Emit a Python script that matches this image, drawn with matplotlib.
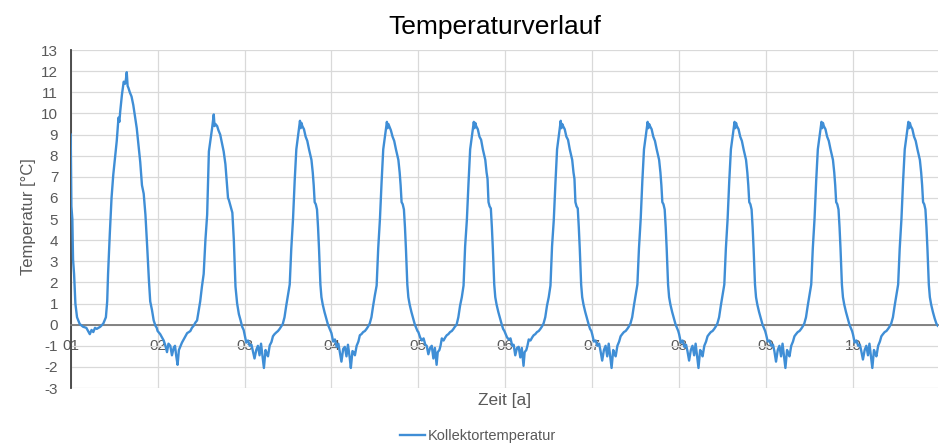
import matplotlib

matplotlib.use("Agg")
import matplotlib.pyplot as plt
import numpy as np

# Zeitpunkte innerhalb eines Jahres (Anteil des Jahres)
ZEIT_JAHR_01 = [
    0.000, 0.008, 0.019, 0.027, 0.039, 0.054, 0.073, 0.104, 0.143, 0.180,
    0.200, 0.220, 0.240, 0.260, 0.280, 0.300, 0.340, 0.375, 0.405, 0.420,
    0.430, 0.450, 0.470, 0.490, 0.510, 0.530, 0.550, 0.560, 0.570, 0.590,
    0.610, 0.625, 0.635, 0.645, 0.655, 0.665, 0.680, 0.700, 0.720, 0.760,
    0.800, 0.820, 0.840, 0.860, 0.880, 0.900, 0.915, 0.935, 0.955, 0.975,
    0.990,
]
TEMP_JAHR_01 = [
    9.0, 5.6, 5.0, 3.1, 2.4, 1.0, 0.35, 0.03, -0.1, -0.15,
    -0.3, -0.45, -0.25, -0.35, -0.15, -0.2, -0.1, 0.05, 0.35, 1.1,
    2.4, 4.3, 6.0, 7.1, 7.9, 8.7, 9.8, 9.6, 10.1, 10.9,
    11.5, 11.4, 11.6, 11.95, 11.3, 11.2, 11.0, 10.8, 10.4, 9.3,
    7.7, 6.6, 6.2, 5.2, 3.7, 2.1, 1.1, 0.7, 0.2, -0.05,
    -0.15,
]

ZEIT_JAHR_02 = [
    0.000, 0.030, 0.070, 0.090, 0.108, 0.125, 0.146, 0.165, 0.185, 0.200,
    0.215, 0.230, 0.245, 0.260, 0.280, 0.300, 0.320, 0.340, 0.360, 0.377,
    0.395, 0.415, 0.435, 0.454, 0.470, 0.490, 0.510, 0.530, 0.550, 0.570,
    0.580, 0.590, 0.610, 0.627, 0.646, 0.655, 0.665, 0.685, 0.700, 0.720,
    0.740, 0.760, 0.780, 0.800, 0.810, 0.820, 0.840, 0.860, 0.877, 0.896,
    0.915, 0.935, 0.955, 0.973, 0.990,
]
TEMP_JAHR_02 = [
    -0.3, -0.45, -0.75, -1.0, -1.3, -0.9, -1.0, -1.45, -1.1, -1.0,
    -1.5, -1.9, -1.2, -1.05, -0.85, -0.7, -0.55, -0.4, -0.35, -0.3,
    -0.15, -0.05, 0.1, 0.2, 0.6, 1.1, 1.8, 2.4, 4.0, 5.2,
    6.8, 8.2, 8.8, 9.3, 9.95, 9.4, 9.5, 9.4, 9.2, 9.0,
    8.6, 8.2, 7.6, 6.5, 6.0, 5.9, 5.6, 5.3, 4.0, 1.8,
    1.0, 0.5, 0.2, -0.1, -0.25,
]

# Jahre 03 bis 10 teilen sich dasselbe Raster der Ablesezeitpunkte
ZEIT_JAHR = [
    0.000, 0.020, 0.040, 0.060, 0.080, 0.096, 0.115, 0.135, 0.154, 0.173,
    0.190, 0.210, 0.223, 0.242, 0.255, 0.270, 0.290, 0.310, 0.327, 0.345,
    0.365, 0.385, 0.404, 0.420, 0.440,
    0.460, 0.480, 0.500, 0.520, 0.538, 0.558, 0.577, 0.596, 0.615, 0.625,
    0.638, 0.646, 0.655, 0.665, 0.684, 0.703, 0.722, 0.742, 0.770, 0.785,
    0.796, 0.807, 0.820, 0.834, 0.846, 0.857, 0.873, 0.885, 0.900, 0.920,
    0.940, 0.960, 0.975, 0.990,
]
TEMP_JAHR_03 = [
    -0.45, -0.85, -0.75, -1.0, -0.95, -1.25, -1.6, -1.2, -1.0, -1.45,
    -0.9, -1.6, -2.05, -1.2, -1.35, -1.5, -0.98, -0.82, -0.55, -0.45,
    -0.37, -0.3, -0.2, -0.1, 0.03,
    0.35, 0.9, 1.4, 1.9, 3.6, 5.0, 6.8, 8.3, 8.9, 9.25,
    9.65, 9.3, 9.55, 9.4, 9.25, 8.9, 8.7, 8.3, 7.8, 7.2,
    6.6, 5.8, 5.7, 5.45, 4.6, 3.6, 1.9, 1.3, 0.95, 0.6,
    0.3, 0.0, -0.15, -0.3,
]
TEMP_JAHR_04 = [
    -0.4, -0.8, -0.7, -1.05, -0.9, -1.3, -1.75, -1.15, -1.05, -1.5,
    -0.95, -1.55, -2.05, -1.25, -1.3, -1.45, -1.0, -0.8, -0.5, -0.45,
    -0.35, -0.3, -0.2, -0.1, 0.05,
    0.35, 0.9, 1.4, 1.85, 3.6, 5.0, 6.75, 8.3, 8.9, 9.2,
    9.6, 9.3, 9.5, 9.4, 9.2, 8.9, 8.7, 8.3, 7.8, 7.2,
    6.6, 5.8, 5.7, 5.45, 4.6, 3.6, 1.9, 1.3, 0.95, 0.6,
    0.3, 0.0, -0.15, -0.3,
]
TEMP_JAHR_05 = [
    -0.35, -0.6, -0.75, -0.65, -0.95, -1.0, -1.4, -1.1, -1.0, -1.6,
    -1.1, -1.9, -1.3, -1.2, -1.0, -0.65, -0.75, -0.6, -0.5, -0.45,
    -0.35, -0.3, -0.2, -0.1, 0.0,
    0.35, 0.9, 1.3, 1.85, 3.7, 4.95, 6.7, 8.3, 8.9, 9.25,
    9.6, 9.3, 9.55, 9.4, 9.25, 8.9, 8.75, 8.3, 7.8, 7.2,
    6.9, 5.8, 5.6, 5.5, 4.6, 3.6, 1.9, 1.3, 0.95, 0.6,
    0.3, 0.0, -0.2, -0.3,
]
TEMP_JAHR_06 = [
    -0.4, -0.6, -0.7, -0.65, -1.0, -0.95, -1.45, -1.1, -1.05, -1.55,
    -1.1, -1.95, -1.3, -1.2, -1.0, -0.7, -0.75, -0.6, -0.5, -0.45,
    -0.35, -0.3, -0.2, -0.1, 0.05,
    0.35, 0.9, 1.3, 1.85, 3.7, 4.95, 6.7, 8.3, 8.9, 9.25,
    9.65, 9.3, 9.5, 9.4, 9.25, 8.9, 8.75, 8.3, 7.8, 7.2,
    6.9, 5.8, 5.6, 5.5, 4.6, 3.6, 1.9, 1.3, 0.95, 0.6,
    0.3, 0.0, -0.2, -0.3,
]
TEMP_JAHR_07 = [
    -0.45, -0.8, -0.75, -1.0, -0.9, -1.25, -1.7, -1.2, -1.0, -1.5,
    -0.9, -1.6, -2.05, -1.2, -1.35, -1.5, -1.0, -0.8, -0.55, -0.45,
    -0.35, -0.3, -0.2, -0.1, 0.05,
    0.35, 0.9, 1.4, 1.9, 3.6, 5.0, 6.8, 8.3, 8.9, 9.25,
    9.6, 9.3, 9.5, 9.4, 9.25, 8.9, 8.7, 8.3, 7.8, 7.2,
    6.6, 5.8, 5.7, 5.45, 4.6, 3.6, 1.9, 1.3, 0.95, 0.6,
    0.3, 0.0, -0.15, -0.3,
]
TEMP_JAHR_08 = [
    -0.45, -0.85, -0.75, -1.05, -0.95, -1.25, -1.7, -1.2, -1.0, -1.45,
    -0.9, -1.6, -2.05, -1.2, -1.3, -1.5, -1.0, -0.8, -0.55, -0.45,
    -0.35, -0.3, -0.2, -0.1, 0.05,
    0.35, 0.9, 1.4, 1.9, 3.6, 5.0, 6.8, 8.3, 8.9, 9.25,
    9.6, 9.3, 9.55, 9.4, 9.25, 8.9, 8.7, 8.3, 7.8, 7.2,
    6.6, 5.8, 5.7, 5.45, 4.6, 3.6, 1.9, 1.3, 0.95, 0.6,
    0.3, 0.0, -0.15, -0.3,
]
TEMP_JAHR_09 = [
    -0.45, -0.8, -0.75, -1.0, -0.95, -1.25, -1.75, -1.2, -1.0, -1.5,
    -0.9, -1.6, -2.05, -1.2, -1.35, -1.5, -1.0, -0.8, -0.55, -0.45,
    -0.35, -0.3, -0.2, -0.1, 0.05,
    0.35, 0.9, 1.4, 1.9, 3.6, 5.0, 6.8, 8.3, 8.9, 9.25,
    9.6, 9.3, 9.55, 9.4, 9.25, 8.9, 8.7, 8.3, 7.8, 7.2,
    6.6, 5.8, 5.7, 5.45, 4.6, 3.6, 1.9, 1.3, 0.95, 0.6,
    0.3, 0.0, -0.15, -0.3,
]
TEMP_JAHR_10 = [
    -0.45, -0.85, -0.75, -1.0, -0.95, -1.25, -1.65, -1.2, -1.0, -1.45,
    -0.9, -1.6, -2.05, -1.2, -1.35, -1.5, -1.0, -0.8, -0.55, -0.45,
    -0.35, -0.3, -0.2, -0.1, 0.05,
    0.35, 0.9, 1.4, 1.9, 3.6, 5.0, 6.8, 8.3, 8.9, 9.25,
    9.6, 9.3, 9.55, 9.4, 9.25, 8.9, 8.7, 8.3, 7.8, 7.2,
    6.6, 5.8, 5.7, 5.45, 4.6, 3.6, 1.9, 1.3, 0.95, 0.6,
    0.3, 0.05, -0.05, -0.1,
]

JAHR_LABELS = ["01", "02", "03", "04", "05", "06", "07", "08", "09", "10"]

LINE_COLOR = "#3f8ed6"
GRID_COLOR = "#d9d9d9"
TEXT_COLOR = "#595959"


def build_series():
    jahre = [
        (ZEIT_JAHR_01, TEMP_JAHR_01),
        (ZEIT_JAHR_02, TEMP_JAHR_02),
        (ZEIT_JAHR, TEMP_JAHR_03),
        (ZEIT_JAHR, TEMP_JAHR_04),
        (ZEIT_JAHR, TEMP_JAHR_05),
        (ZEIT_JAHR, TEMP_JAHR_06),
        (ZEIT_JAHR, TEMP_JAHR_07),
        (ZEIT_JAHR, TEMP_JAHR_08),
        (ZEIT_JAHR, TEMP_JAHR_09),
        (ZEIT_JAHR, TEMP_JAHR_10),
    ]
    zeit, temp = [], []
    for i, (t, v) in enumerate(jahre):
        zeit.extend(np.asarray(t) + i)
        temp.extend(v)
    return np.array(zeit), np.array(temp)


def main():
    plt.rcParams["font.family"] = ["Liberation Sans", "DejaVu Sans"]
    plt.rcParams["axes.unicode_minus"] = False
    fig = plt.figure(figsize=(9.4, 4.45), dpi=100)
    ax = fig.add_axes([0.0752, 0.128, 0.9228, 0.7596])

    zeit, temp = build_series()
    (line,) = ax.plot(zeit, temp, color=LINE_COLOR, lw=1.7,
                      label="Kollektortemperatur", zorder=3)

    ax.set_xlim(0, 9.98)
    ax.set_ylim(-3, 13)
    ax.set_yticks(range(-3, 14))
    ax.set_xticks(range(len(JAHR_LABELS)))
    ax.set_xticklabels(JAHR_LABELS)

    ax.grid(True, color=GRID_COLOR, lw=0.9, zorder=0)
    ax.set_axisbelow(True)

    # Excel-Stil: x-Achse kreuzt bei 0
    ax.spines["bottom"].set_position(("data", 0))
    ax.spines["bottom"].set_color("#7a7a7a")
    ax.spines["bottom"].set_linewidth(1.3)
    ax.spines["left"].set_color("#404040")
    ax.spines["left"].set_linewidth(1.3)
    ax.spines["top"].set_visible(False)
    ax.spines["right"].set_visible(False)

    ax.tick_params(axis="both", length=0, labelsize=11, labelcolor=TEXT_COLOR)
    ax.tick_params(axis="x", pad=10)
    ax.tick_params(axis="y", pad=9)

    fig.text(495 / 940, 1 - 27 / 445, "Temperaturverlauf", fontsize=19,
             ha="center", va="center", color="black")
    fig.text(28 / 940, 1 - 217 / 445, "Temperatur [°C]", fontsize=12,
             rotation=90, ha="center", va="center", color=TEXT_COLOR)
    fig.text(505 / 940, 1 - 400 / 445, "Zeit [a]", fontsize=12.5,
             ha="center", va="center", color=TEXT_COLOR)

    leg = fig.legend(handles=[line], loc="center",
                     bbox_to_anchor=(478 / 940, 1 - 436 / 445),
                     frameon=False, fontsize=10.5, handlelength=1.7,
                     handletextpad=0.2)
    for txt in leg.get_texts():
        txt.set_color(TEXT_COLOR)

    fig.savefig("out.png", dpi=100)
    plt.close(fig)


if __name__ == "__main__":
    main()
